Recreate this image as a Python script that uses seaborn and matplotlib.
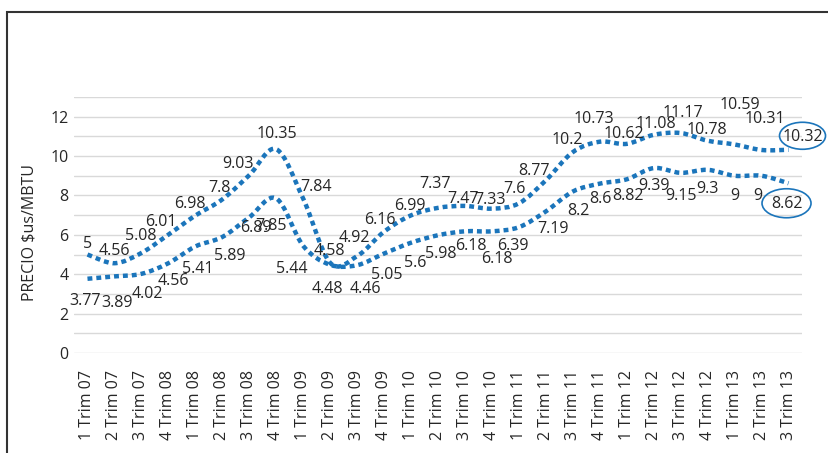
import matplotlib
matplotlib.use('Agg')
import matplotlib.pyplot as plt
import seaborn as sns
import pandas as pd
from matplotlib.path import Path
from matplotlib.patches import PathPatch, Rectangle, Ellipse
from matplotlib.transforms import IdentityTransform

periods = ['1 Trim 07', '2 Trim 07', '3 Trim 07', '4 Trim 08', '1 Trim 08', '2 Trim 08',
           '3 Trim 08', '4 Trim 08', '1 Trim 09', '2 Trim 09', '3 Trim 09', '4 Trim 09',
           '1 Trim 10', '2 Trim 10', '3 Trim 10', '4 Trim 10', '1 Trim 11', '2 Trim 11',
           '3 Trim 11', '4 Trim 11', '1 Trim 12', '2 Trim 12', '3 Trim 12', '4 Trim 12',
           '1 Trim 13', '2 Trim 13', '3 Trim 13']
upper = [5, 4.56, 5.08, 6.01, 6.98, 7.8, 9.03, 10.35, 7.84, 4.58, 4.92, 6.16, 6.99, 7.37,
         7.47, 7.33, 7.6, 8.77, 10.2, 10.73, 10.62, 11.08, 11.17, 10.78, 10.59, 10.31, 10.32]
lower = [3.77, 3.89, 4.02, 4.56, 5.41, 5.89, 6.89, 7.85, 5.44, 4.48, 4.46, 5.05, 5.6, 5.98,
         6.18, 6.18, 6.39, 7.19, 8.2, 8.6, 8.82, 9.39, 9.15, 9.3, 9, 9, 8.62]

# label offsets in pixels (dx, dy down)
upper_off = [(0, -12), (0, -13), (-1, -18), (-7, -14), (-5, -13), (-3, -12), (-11, -12),
             (1, -16), (13, -13), (-1, -13), (-3, -19), (-4, -13), (-1, -10), (-3, -25),
             (-2, -8), (-2, -10), (-4, -15), (-12, -10), (-6, -13), (-6, -24), (-3, -11),
             (2, -12), (2, -21), (-1, -12), (5, -40), (3, -32), (14, -14)]
lower_off = [(-2, 21), (3, 26), (6, 19), (5, 17), (2, 22), (7, 18), (7, 10), (-5, 27),
             (-11, 22), (-3, 23), (8, 23), (3, 20), (4, 19), (3, 18), (6, 14), (5, 27),
             (-6, 18), (7, 17), (6, 18), (1, 14), (1, 16), (0, 17), (0, 22), (0, 18),
             (0, 19), (-4, 19), (-2, 20)]

BLUE = '#1B75BB'
TXT = '#262626'

df = pd.DataFrame({'x': range(len(periods)), 'periodo': periods,
                   'upper': upper, 'lower': lower})

sns.set_theme(style='whitegrid')
plt.rcParams['font.family'] = ['Open Sans', 'DejaVu Sans']


def smooth_path(xs, ys):
    # bezier smoothing like the office "smoothed line"
    pts = list(zip(xs, ys))
    n = len(pts)
    verts, codes = [pts[0]], [Path.MOVETO]
    for i in range(n - 1):
        p0, p1 = pts[max(i - 1, 0)], pts[i]
        p2, p3 = pts[i + 1], pts[min(i + 2, n - 1)]
        c1 = (p1[0] + (p2[0] - p0[0]) / 6, p1[1] + (p2[1] - p0[1]) / 6)
        c2 = (p2[0] - (p3[0] - p1[0]) / 6, p2[1] - (p3[1] - p1[1]) / 6)
        verts += [c1, c2, p2]
        codes += [Path.CURVE4] * 3
    return Path(verts, codes)


fig = plt.figure(figsize=(8.29, 4.53), dpi=100)
ax = fig.add_axes([74 / 829, 100 / 453, 728 / 829, 256 / 453])

for col in ['upper', 'lower']:
    sns.lineplot(data=df, x='x', y=col, ax=ax)
    ln = ax.lines[-1]
    xs, ys = ln.get_data()
    ln.remove()
    ax.add_patch(PathPatch(smooth_path(xs, ys), fill=False, edgecolor=BLUE, lw=3.2,
                           linestyle=(0, (1.1, 0.9)), capstyle='butt', zorder=3))

ax.set_xlim(-0.5, len(periods) - 0.5)
ax.set_ylim(0, 13)

# last values get an ellipse around them
ell_size = {'upper': (46, 27), 'lower': (49, 29)}
for col, offs in [('upper', upper_off), ('lower', lower_off)]:
    n = len(df)
    for i, (x, v) in enumerate(zip(df['x'], df[col])):
        dx, dy = offs[i]
        ax.annotate(f'{v:g}', (x, v), xytext=(dx, -dy - 1), textcoords='offset pixels',
                    ha='center', va='center', fontsize=11.5, color=TXT, zorder=4)
        if i == n - 1:
            px, py = ax.transData.transform((x, v))
            w, h = ell_size[col]
            fig.add_artist(Ellipse((px + dx, py - dy), w, h, transform=IdentityTransform(),
                                   fill=False, ec=BLUE, lw=1.2, zorder=5))

ax.set_xticks(df['x'])
ax.set_xticklabels(periods, rotation=90)
ax.set_yticks(range(0, 14))
ax.set_yticklabels([str(t) if t % 2 == 0 and t < 13 else '' for t in range(0, 14)])
ax.tick_params(axis='x', length=0, pad=12, labelsize=11.5, labelcolor=TXT)
ax.tick_params(axis='y', length=0, pad=4, labelsize=11.5, labelcolor=TXT)
ax.grid(axis='y', color='#d9d9d9', lw=1.0)
ax.grid(axis='x', visible=False)
for s in ax.spines.values():
    s.set_visible(False)
ax.set_xlabel('')
ax.set_ylabel('PRECIO $us/MBTU', fontsize=11.5, color=TXT)
ax.yaxis.set_label_coords(-0.05, 0.47)

# outer frame, cut off at right and bottom
fig.add_artist(Rectangle((7 / 829, -0.1), 1.0, 1.1 - 12 / 453, transform=fig.transFigure,
                         fill=False, ec='#333333', lw=1.5))

fig.savefig('out.png', dpi=100)
plt.close(fig)
